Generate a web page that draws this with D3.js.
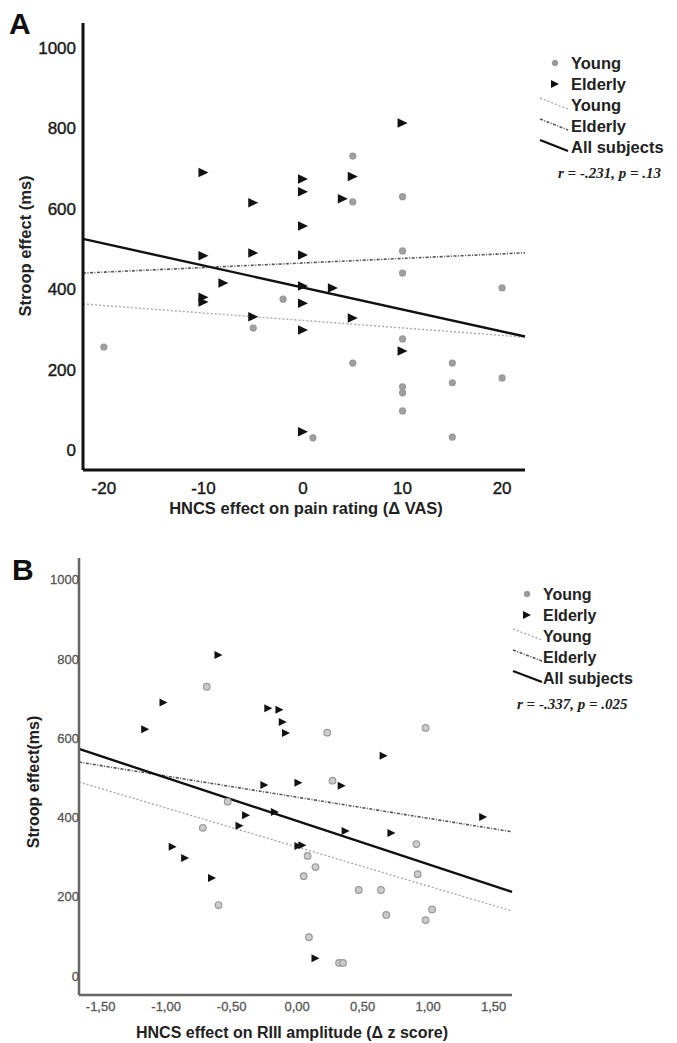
<!DOCTYPE html>
<html>
<head>
<meta charset="utf-8">
<script src="https://cdn.jsdelivr.net/npm/d3@7/dist/d3.min.js"></script>
<style>
  html, body { margin: 0; padding: 0; background: #fff; }
  svg { display: block; }
</style>
</head>
<body>
<svg id="chart" width="677" height="1043"></svg>
<script>
// ---------- DATA ----------
// Panel A: HNCS effect on pain rating (Δ VAS) vs Stroop effect (ms)
const youngA = [
  [5, 731], [5, 617], [10, 630], [10, 495], [10, 440], [20, 403], [-2, 375],
  [-5, 303], [10, 276], [5, 216], [15, 216], [15, 167], [20, 179], [10, 157],
  [10, 142], [10, 97], [1, 30], [15, 32], [-20, 256]
];
const elderlyA = [
  [-10, 690], [-5, 615], [0, 674], [0, 642], [0, 557], [0, 485], [-5, 490],
  [-10, 483], [-8, 415], [0, 408], [3, 403], [4, 625], [5, 680], [10, 813],
  [-10, 380], [-10, 368], [0, 365], [-5, 331], [0, 298], [5, 328], [10, 246],
  [0, 45]
];
// fit lines [intercept, slope]
const fitYoungA = [322, -1.86];
const fitElderlyA = [465, 1.136];
const fitAllA = [404, -5.465];
const xTicksA = [-20, -10, 0, 10, 20];
const yTicks = [0, 200, 400, 600, 800, 1000];
const statA = "r = -.231, p = .13";

// Panel B: HNCS effect on RIII amplitude (Δ z score) vs Stroop effect (ms)
const youngB = [
  [-0.69, 730], [0.23, 614], [0.27, 493], [-0.53, 440], [-0.72, 374],
  [0.08, 303], [0.14, 275], [0.05, 252], [0.47, 217], [-0.60, 179],
  [0.09, 98], [0.32, 33], [0.35, 33], [0.98, 626], [0.91, 333], [0.92, 257],
  [0.64, 217], [0.68, 154], [1.03, 168], [0.98, 141]
];
const elderlyB = [
  [-0.60, 810], [-1.02, 690], [-1.16, 623], [-0.22, 676], [-0.135, 672],
  [-0.11, 641], [-0.085, 613], [-0.25, 482], [0.01, 488], [0.34, 480],
  [-0.39, 406], [-0.17, 414], [-0.44, 379], [0.37, 366], [-0.95, 326],
  [0.01, 328], [0.04, 330], [-0.855, 298], [-0.65, 247], [0.14, 45],
  [0.66, 556], [1.42, 401], [0.72, 361]
];
const fitYoungB = [325.5, -98.5];
const fitElderlyB = [451.3, -53.25];
const fitAllB = [391.2, -109.2];
const xTicksB = [-1.5, -1.0, -0.5, 0, 0.5, 1.0, 1.5];
const statB = "r = -.337, p = .025";

const legendLabels = ["Young", "Elderly", "Young", "Elderly", "All subjects"];

// ---------- DRAW ----------
const svg = d3.select("#chart");
const SANS = "'Liberation Sans', Arial, sans-serif";
const SERIF = "'Liberation Serif', 'Times New Roman', serif";

function panel(cfg) {
  const g = svg.append("g");
  const x = d3.scaleLinear().domain(cfg.xDomain).range(cfg.xRange);
  const y = d3.scaleLinear().domain(cfg.yDomain).range(cfg.yRange);

  // panel letter
  g.append("text").attr("x", cfg.letterPos[0]).attr("y", cfg.letterPos[1])
    .attr("font-family", SANS).attr("font-weight", "bold").attr("font-size", 30)
    .attr("fill", "#111").text(cfg.letter);

  // fit lines
  const fits = [
    { f: cfg.fitYoung, stroke: "#aaa", dash: "2,2", w: 1.4 },
    { f: cfg.fitElderly, stroke: "#555", dash: "3,1.5,1,1.5", w: 1.6 },
    { f: cfg.fitAll, stroke: "#111", dash: null, w: 2.4 }
  ];
  const xd = x.domain();
  fits.forEach(d => {
    const ln = g.append("line")
      .attr("x1", x(xd[0])).attr("y1", y(d.f[0] + d.f[1] * xd[0]))
      .attr("x2", x(xd[1])).attr("y2", y(d.f[0] + d.f[1] * xd[1]))
      .attr("stroke", d.stroke).attr("stroke-width", d.w);
    if (d.dash) ln.attr("stroke-dasharray", d.dash);
  });

  // young points (circles)
  g.selectAll(".young").data(cfg.young).enter().append("circle")
    .attr("cx", d => x(d[0])).attr("cy", d => y(d[1]))
    .attr("r", cfg.circleR)
    .attr("fill", cfg.circleFill).attr("stroke", "#999").attr("stroke-width", 1.2);

  // elderly points (right triangles)
  const tw = cfg.triW, th = cfg.triH;
  g.selectAll(".eld").data(cfg.elderly).enter().append("path")
    .attr("d", d => {
      const cx = x(d[0]), cy = y(d[1]);
      return `M${cx - tw / 2},${cy - th / 2}L${cx + tw / 2},${cy}L${cx - tw / 2},${cy + th / 2}Z`;
    })
    .attr("fill", "#111");

  // axes
  const x0 = cfg.xRange[0], y0 = cfg.yRange[0];
  g.append("line").attr("x1", x0).attr("y1", cfg.yRange[1]).attr("x2", x0).attr("y2", y0)
    .attr("stroke", cfg.axisColor).attr("stroke-width", cfg.axisW);
  g.append("line").attr("x1", x0).attr("y1", y0).attr("x2", cfg.xRange[1]).attr("y2", y0)
    .attr("stroke", cfg.axisColor).attr("stroke-width", cfg.axisW);

  // y tick labels
  g.selectAll(".yt").data(yTicks).enter().append("text")
    .attr("x", cfg.yTickX).attr("y", d => y(d)).attr("dy", "0.36em")
    .attr("text-anchor", "end").attr("font-family", SANS)
    .attr("font-size", cfg.tickSize).attr("fill", cfg.tickColor)
    .attr("stroke", cfg.tickColor).attr("stroke-width", cfg.tickStroke)
    .text(cfg.tickFmt);
  // x tick labels
  g.selectAll(".xt").data(cfg.xTicks).enter().append("text")
    .attr("x", d => x(d)).attr("y", cfg.xTickY).attr("dy", "0.36em")
    .attr("text-anchor", "middle").attr("font-family", SANS)
    .attr("font-size", cfg.tickSize).attr("fill", cfg.tickColor)
    .attr("stroke", cfg.tickColor).attr("stroke-width", cfg.tickStroke)
    .text(cfg.xTickFmt);

  // axis titles
  g.append("text").attr("x", cfg.xTitlePos[0]).attr("y", cfg.xTitlePos[1]).attr("dy", "0.36em")
    .attr("text-anchor", "middle").attr("font-family", SANS).attr("font-weight", "bold")
    .attr("font-size", cfg.titleSize).attr("fill", "#222").text(cfg.xTitle);
  g.append("text")
    .attr("transform", `translate(${cfg.yTitlePos[0]},${cfg.yTitlePos[1]}) rotate(-90)`)
    .attr("dy", "0.36em")
    .attr("text-anchor", "middle").attr("font-family", SANS).attr("font-weight", "bold")
    .attr("font-size", cfg.titleSize).attr("fill", "#222").text(cfg.yTitle);

  // legend
  const L = cfg.legend;
  legendLabels.forEach((lab, i) => {
    const ty = L.y0 + i * L.dy;
    g.append("text").attr("x", L.textX).attr("y", ty).attr("dy", "0.36em")
      .attr("font-family", SANS).attr("font-weight", "bold").attr("font-size", L.size)
      .attr("fill", "#222").text(lab);
    if (i === 0) {
      g.append("circle").attr("cx", L.markX).attr("cy", ty).attr("r", 2.8)
        .attr("fill", "#999").attr("stroke", "#999");
    } else if (i === 1) {
      g.append("path")
        .attr("d", `M${L.markX - 4},${ty - 4}L${L.markX + 4},${ty}L${L.markX - 4},${ty + 4}Z`)
        .attr("fill", "#111");
    } else {
      const f = fits[i - 2];
      const ln = g.append("line")
        .attr("x1", L.lineX[0]).attr("y1", ty - 7)
        .attr("x2", L.lineX[1]).attr("y2", ty + 4)
        .attr("stroke", f.stroke).attr("stroke-width", f.w);
      if (f.dash) ln.attr("stroke-dasharray", f.dash);
    }
  });
  g.append("text").attr("x", L.statX).attr("y", L.statY).attr("dy", "0.36em")
    .attr("font-family", SERIF).attr("font-style", "italic").attr("font-weight", "bold")
    .attr("font-size", 15).attr("fill", "#222").text(cfg.stat);
}

panel({
  letter: "A", letterPos: [9, 34],
  xDomain: [-22.1, 22.3], xRange: [83, 525],
  yDomain: [-50, 1062], yRange: [470, 23],
  young: youngA, elderly: elderlyA,
  fitYoung: fitYoungA, fitElderly: fitElderlyA, fitAll: fitAllA,
  circleR: 3, circleFill: "#a0a0a0", triW: 10, triH: 9.5,
  axisColor: "#111", axisW: 3,
  tickSize: 17, tickColor: "#1a1a1a", tickStroke: 0.4,
  tickFmt: d => d, xTicks: xTicksA, xTickFmt: d => d,
  yTickX: 76, xTickY: 488,
  titleSize: 16.5,
  xTitle: "HNCS effect on pain rating (\u0394 VAS)", xTitlePos: [306, 508],
  yTitle: "Stroop effect (ms)", yTitlePos: [25, 246],
  legend: { y0: 63, dy: 21, textX: 571, markX: 555, lineX: [540, 568], size: 16.5, statX: 558, statY: 173 },
  stat: statA
});

panel({
  letter: "B", letterPos: [12, 580],
  xDomain: [-1.665, 1.64], xRange: [79, 512],
  yDomain: [-48, 1055], yRange: [995, 558],
  young: youngB, elderly: elderlyB,
  fitYoung: fitYoungB, fitElderly: fitElderlyB, fitAll: fitAllB,
  circleR: 3.3, circleFill: "#ccc", triW: 8, triH: 8,
  axisColor: "#666", axisW: 2.5,
  tickSize: 13, tickColor: "#555", tickStroke: 0.3,
  tickFmt: d => d, xTicks: xTicksB,
  xTickFmt: d => d3.format(".2f")(d).replace(".", ",").replace("\u2212", "-"),
  yTickX: 79, xTickY: 1006,
  titleSize: 16,
  xTitle: "HNCS effect on RIII amplitude (\u0394 z score)", xTitlePos: [292, 1032],
  yTitle: "Stroop effect(ms)", yTitlePos: [33, 782],
  legend: { y0: 594, dy: 21, textX: 543, markX: 527, lineX: [513, 542], size: 16, statX: 517, statY: 704 },
  stat: statB
});
</script>
</body>
</html>
